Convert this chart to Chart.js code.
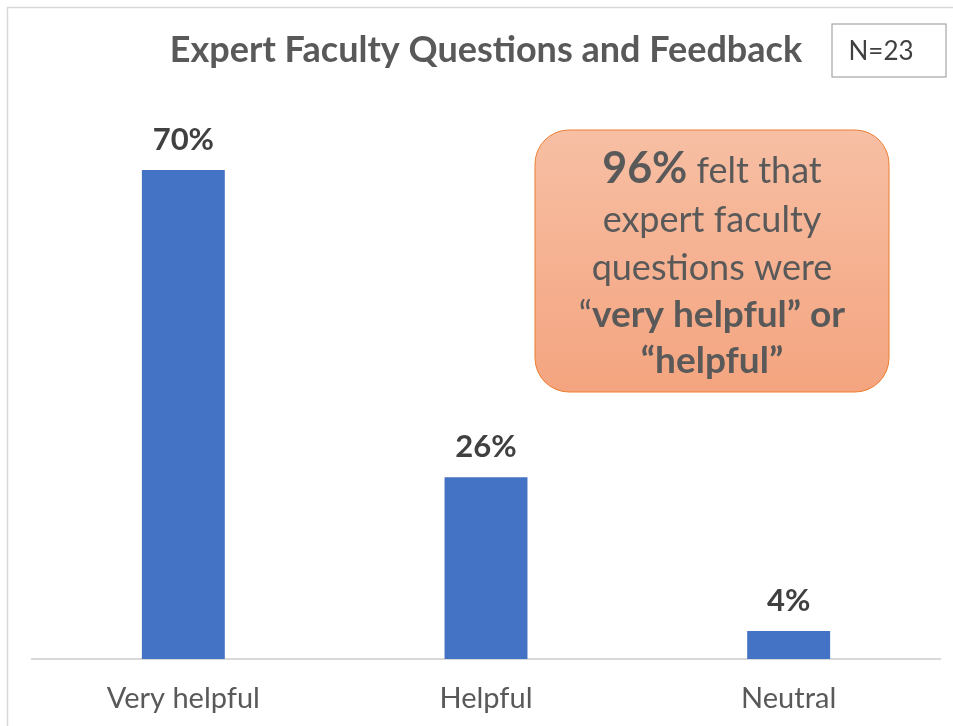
<!DOCTYPE html>
<html>
<head>
<meta charset="utf-8">
<script src="https://cdn.jsdelivr.net/npm/chart.js@4"></script>
<style>
  html, body { margin: 0; padding: 0; background: #ffffff; }
  #wrap { width: 953px; height: 726px; position: relative; }
</style>
</head>
<body>
<div id="wrap"><canvas id="chart"></canvas></div>
<script>
// data
const categories = ["Very helpful", "Helpful", "Neutral"];
const percents = [70, 26, 4];
const chartTitle = "Expert Faculty Questions and Feedback";
const sampleNote = "N=23";
// callout lines, each a list of [text, bold]
const calloutLines = [
  [["96%", "big"], [" felt that", false]],
  [["expert faculty", false]],
  [["questions were", false]],
  [["\u201c", false], ["very helpful\u201d or", true]],
  [["\u201chelpful\u201d", true]]
];

const FONT = "Lato, 'Open Sans', sans-serif";
const textGrey = "#595959";
const labelGrey = "#404040";

const decorations = {
  id: "decorations",
  beforeDraw(chart) {
    const ctx = chart.ctx;
    ctx.save();
    // outer frame (only top & left visible)
    ctx.strokeStyle = "#d9d9d9";
    ctx.lineWidth = 1.5;
    ctx.beginPath();
    ctx.moveTo(7.5, 730);
    ctx.lineTo(7.5, 7.5);
    ctx.lineTo(960, 7.5);
    ctx.stroke();
    ctx.restore();
  },
  afterDraw(chart) {
    const ctx = chart.ctx;
    ctx.save();

    // title
    ctx.fillStyle = textGrey;
    ctx.font = "bold 36px " + FONT;
    ctx.textAlign = "center";
    ctx.textBaseline = "alphabetic";
    ctx.fillText(chartTitle, 486, 62);

    // N box
    ctx.strokeStyle = "#a6a6a6";
    ctx.lineWidth = 1.2;
    ctx.strokeRect(832, 24, 114, 53);
    ctx.fillStyle = labelGrey;
    ctx.font = "26px " + FONT;
    ctx.fillText(sampleNote, 881, 60);

    // callout box
    const bx = 535, by = 130, bw = 354, bh = 262, r = 34;
    const grad = ctx.createLinearGradient(0, by, 0, by + bh);
    grad.addColorStop(0, "#f7bfa4");
    grad.addColorStop(1, "#f4a47f");
    ctx.beginPath();
    ctx.roundRect(bx, by, bw, bh, r);
    ctx.fillStyle = grad;
    ctx.fill();
    ctx.strokeStyle = "#ed7d31";
    ctx.lineWidth = 1;
    ctx.stroke();

    // callout text
    const cx = bx + bw / 2;
    const baselines = [183, 232, 280, 327, 373];
    ctx.textAlign = "left";
    ctx.fillStyle = textGrey;
    calloutLines.forEach((segs, i) => {
      const fonts = segs.map(s => s[1] === "big" ? "bold 43px " + FONT :
        (s[1] ? "bold 37px " + FONT : "36px " + FONT));
      let total = 0;
      segs.forEach((s, j) => { ctx.font = fonts[j]; total += ctx.measureText(s[0]).width; });
      let x = cx - total / 2;
      segs.forEach((s, j) => {
        ctx.font = fonts[j];
        ctx.fillText(s[0], x, baselines[i]);
        x += ctx.measureText(s[0]).width;
      });
    });

    // value labels above bars
    const meta = chart.getDatasetMeta(0);
    ctx.textAlign = "center";
    ctx.textBaseline = "middle";
    ctx.fillStyle = labelGrey;
    ctx.font = "bold 31px " + FONT;
    meta.data.forEach((bar, i) => {
      ctx.fillText(percents[i] + "%", bar.x, bar.y - 30);
    });
    ctx.restore();
  }
};

new Chart(document.getElementById("chart"), {
  type: "bar",
  data: {
    labels: categories,
    datasets: [{
      data: percents,
      backgroundColor: "#4472c4",
      categoryPercentage: 1,
      barPercentage: 0.274
    }]
  },
  options: {
    responsive: true,
    maintainAspectRatio: false,
    animation: false,
    layout: { padding: { top: 100, left: 32, right: 13, bottom: 0 } },
    plugins: { legend: { display: false }, tooltip: { enabled: false } },
    scales: {
      y: { display: false, min: 0, max: 80 },
      x: {
        grid: { display: false, drawTicks: false },
        border: { display: true, color: "#d9d9d9", width: 2 },
        ticks: { color: textGrey, font: { family: FONT, size: 29 }, padding: 22 },
        afterFit(scale) { scale.height = 67; }
      }
    }
  },
  plugins: [decorations]
});
</script>
</body>
</html>
